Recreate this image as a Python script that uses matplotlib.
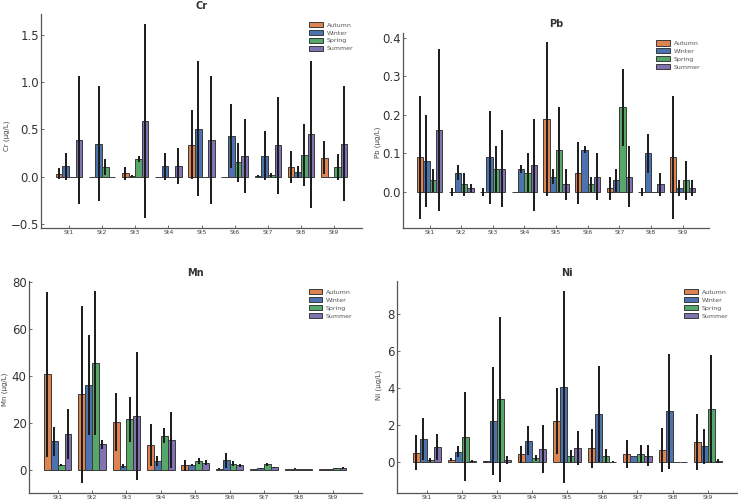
import matplotlib
matplotlib.use("Agg")
import matplotlib.pyplot as plt
import numpy as np

stations = ["St1", "St2", "St3", "St4", "St5", "St6", "St7", "St8", "St9"]
seasons = ["Autumn", "Winter", "Spring", "Summer"]
season_colors = ["#dd8452", "#4c72b0", "#55a868", "#8172b3"]

# Cr (µg/L): rows = Autumn, Winter, Spring, Summer
cr_mean = [
    [0.03, 0.0, 0.035, 0.0, 0.34, 0.0, 0.01, 0.10, 0.20],
    [0.11, 0.35, 0.01, 0.11, 0.51, 0.43, 0.22, 0.05, 0.0],
    [0.0, 0.105, 0.19, 0.0, 0.0, 0.15, 0.02, 0.23, 0.10],
    [0.39, 0.0, 0.59, 0.11, 0.39, 0.22, 0.33, 0.45, 0.35],
]
cr_sd = [
    [0.06, 0.0, 0.07, 0.0, 0.37, 0.0, 0.01, 0.17, 0.175],
    [0.145, 0.61, 0.01, 0.145, 0.72, 0.34, 0.26, 0.06, 0.0],
    [0.0, 0.085, 0.03, 0.0, 0.0, 0.21, 0.02, 0.33, 0.14],
    [0.68, 0.0, 1.03, 0.19, 0.68, 0.39, 0.51, 0.78, 0.61],
]

# Pb (µg/L)
pb_mean = [
    [0.09, 0.0, 0.0, 0.0, 0.19, 0.05, 0.01, 0.0, 0.09],
    [0.08, 0.05, 0.09, 0.06, 0.04, 0.11, 0.03, 0.10, 0.01],
    [0.03, 0.02, 0.06, 0.05, 0.11, 0.02, 0.22, 0.0, 0.03],
    [0.16, 0.01, 0.06, 0.07, 0.02, 0.04, 0.04, 0.02, 0.01],
]
pb_sd = [
    [0.16, 0.01, 0.01, 0.0, 0.20, 0.08, 0.03, 0.01, 0.16],
    [0.12, 0.02, 0.12, 0.01, 0.02, 0.01, 0.03, 0.05, 0.02],
    [0.03, 0.03, 0.06, 0.05, 0.11, 0.02, 0.10, 0.0, 0.05],
    [0.21, 0.01, 0.10, 0.12, 0.04, 0.06, 0.08, 0.03, 0.02],
]

# Mn (µg/L)
mn_mean = [
    [40.6, 32.0, 20.3, 10.6, 1.8, 0.4, 0.2, 0.2, 0.2],
    [12.0, 36.2, 1.5, 3.7, 2.0, 4.0, 0.5, 0.4, 0.2],
    [2.1, 45.4, 21.4, 14.5, 3.6, 2.6, 2.2, 0.2, 0.5],
    [15.3, 10.8, 23.0, 12.6, 3.0, 1.9, 1.0, 0.2, 0.7],
]
mn_sd = [
    [35.2, 37.8, 12.4, 8.9, 2.5, 0.2, 0.1, 0.1, 0.1],
    [6.0, 21.3, 0.8, 2.0, 0.5, 3.1, 0.2, 0.3, 0.1],
    [0.4, 30.7, 9.7, 3.3, 1.4, 1.0, 0.5, 0.1, 0.2],
    [10.6, 2.0, 27.2, 11.9, 1.0, 0.6, 0.3, 0.1, 0.4],
]

# Ni (µg/L)
ni_mean = [
    [0.53, 0.15, 0.05, 0.45, 2.23, 0.76, 0.45, 0.68, 1.10],
    [1.26, 0.58, 2.23, 1.17, 4.07, 2.63, 0.35, 2.76, 0.86],
    [0.12, 1.39, 3.41, 0.25, 0.35, 0.32, 0.45, 0.0, 2.88],
    [0.83, 0.06, 0.14, 0.74, 0.79, 0.03, 0.37, 0.0, 0.07],
]
ni_sd = [
    [0.95, 0.10, 0.05, 0.46, 1.80, 1.07, 0.76, 1.18, 1.50],
    [1.15, 0.30, 2.90, 0.79, 5.20, 2.60, 0.0, 3.10, 0.95],
    [0.12, 2.39, 4.45, 0.17, 0.33, 0.38, 0.47, 0.0, 2.90],
    [0.70, 0.05, 0.21, 1.30, 0.93, 0.03, 0.56, 0.0, 0.13],
]

panels = [
    ("Cr", cr_mean, cr_sd, [0.0556, 0.548, 0.435, 0.424], (-0.097, 0.43)),
    ("Pb", pb_mean, pb_sd, [0.546, 0.548, 0.415, 0.387], (-0.072, 0.44)),
    ("Mn", mn_mean, mn_sd, [0.039, 0.022, 0.451, 0.420], (-0.062, 0.49)),
    ("Ni", ni_mean, ni_sd, [0.538, 0.022, 0.461, 0.420], (-0.044, 0.51)),
]

fig = plt.figure(figsize=(7.38, 5.04), dpi=100)
spine_col = "#555555"
x = np.arange(len(stations))
width = 0.2

for name, means, sds, pos, lab in panels:
    ax = fig.add_axes(pos)
    for i, (season, col) in enumerate(zip(seasons, season_colors)):
        xs = x + (i - 1.5) * width
        ax.bar(xs, means[i], width=width, color=col, edgecolor="#3a3a3a",
               linewidth=0.7, label=season, zorder=2)
        ax.errorbar(xs, means[i], yerr=sds[i], fmt="none", ecolor="#1a1a1a",
                    elinewidth=1.4, capsize=0, zorder=3)
    ax.set_xticks(x)
    ax.set_xticklabels(stations, fontsize=4.5, color="#444444")
    ax.tick_params(axis="x", direction="in", length=2.5, width=0.6, pad=1.5,
                   colors=spine_col, labelcolor="#444444")
    ax.tick_params(axis="y", direction="in", length=2.5, width=0.6, pad=1.5,
                   labelsize=8.5, colors=spine_col, labelcolor="#333333")
    for s in ["top", "right"]:
        ax.spines[s].set_visible(False)
    for s in ["left", "bottom"]:
        ax.spines[s].set_color(spine_col)
        ax.spines[s].set_linewidth(0.9)
    ax.set_title(name, fontsize=7, fontweight="bold", color="#333333", pad=4)
    ax.set_ylabel(f"{name} (µg/L)", fontsize=5, color="#444444")
    ax.yaxis.set_label_coords(*lab)
    leg = ax.legend(loc="upper right", bbox_to_anchor=(0.99, 0.99), frameon=False,
                    fontsize=4.5, handlelength=2.2, handleheight=0.9,
                    labelspacing=0.35, handletextpad=0.6)
    for t in leg.get_texts():
        t.set_color("#555555")

fig.savefig("out.png", dpi=100)
